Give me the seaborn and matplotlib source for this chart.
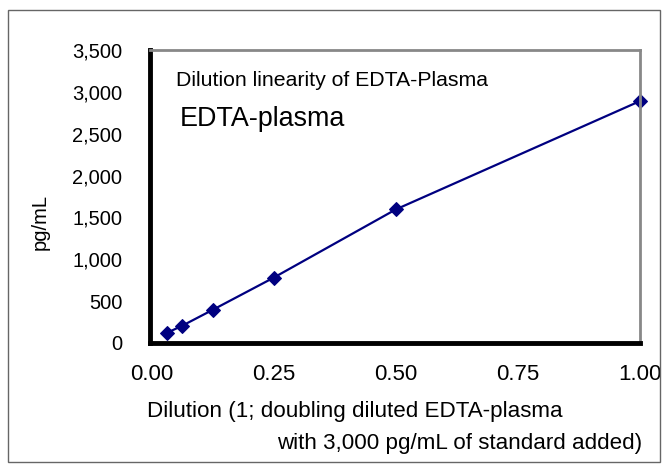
import matplotlib
matplotlib.use("Agg")
import matplotlib.pyplot as plt
import seaborn as sns
import pandas as pd
from matplotlib.ticker import FuncFormatter, FixedLocator
from matplotlib.patches import Rectangle

sns.set_style("white")
plt.rcParams['font.family'] = ['Liberation Sans', 'DejaVu Sans']
plt.rcParams['text.color'] = 'black'
plt.rcParams['xtick.color'] = 'black'
plt.rcParams['ytick.color'] = 'black'
plt.rcParams['axes.labelcolor'] = 'black'

dilution = [0.03125, 0.0625, 0.125, 0.25, 0.5, 1.0]
pg_ml = [120, 205, 395, 780, 1595, 2890]
x_ticks = [0.0, 0.25, 0.5, 0.75, 1.0]
y_ticks = [0, 500, 1000, 1500, 2000, 2500, 3000, 3500]

df = pd.DataFrame({"Dilution": dilution, "pg/mL": pg_ml})

W, H = 670, 470
fig = plt.figure(figsize=(6.7, 4.7), dpi=100)
ax = fig.add_axes([150/W, 1 - 343/H, 490/W, 293/H])

sns.lineplot(data=df, x="Dilution", y="pg/mL", ax=ax, color="#000080",
             marker="D", markersize=7, markeredgecolor="#000080",
             linewidth=1.6, clip_on=False)

ax.set_xlim(-0.003, 1.0)
ax.set_ylim(0, 3500)
ax.xaxis.set_major_locator(FixedLocator(x_ticks))
ax.yaxis.set_major_locator(FixedLocator(y_ticks))
ax.xaxis.set_major_formatter(FuncFormatter(lambda v, p: f"{v:.2f}"))
ax.yaxis.set_major_formatter(FuncFormatter(lambda v, p: f"{int(v):,}"))

for s in ['top', 'right']:
    ax.spines[s].set_color('#888888')
    ax.spines[s].set_linewidth(2)
for s in ['left', 'bottom']:
    ax.spines[s].set_color('black')
    ax.spines[s].set_linewidth(3.5)

ax.set_xlabel("")

renderer = fig.canvas.get_renderer()


def fit_size(text, target_w, base=12, rotation=0):
    t = fig.text(0, 0, text, fontsize=base, rotation=rotation)
    bb = t.get_window_extent(renderer)
    t.remove()
    w = bb.height if rotation else bb.width
    return base * target_w / w


ysz = fit_size("3,500", 50)
xsz = fit_size("1.00", 43)
ax.tick_params(axis='y', labelsize=ysz, length=0, pad=20)
ax.tick_params(axis='x', labelsize=xsz, length=0, pad=15)

ax.set_ylabel("pg/mL", fontsize=fit_size("pg/mL", 56, rotation=90), labelpad=0)
ax.yaxis.set_label_coords(50/W, 1 - 222/H, transform=fig.transFigure)


def place(text, left, right, yc):
    sz = fit_size(text, right - left)
    fig.text(left/W, 1 - yc/H, text, fontsize=sz, va='center', ha='left')


place("Dilution linearity of EDTA-Plasma", 176, 490, 80)
place("EDTA-plasma", 180, 345, 119)

line1 = "Dilution (1; doubling diluted EDTA-plasma"
line2 = "with 3,000 pg/mL of standard added)"
s1 = fit_size(line1, 386)
s2 = fit_size(line2, 390)
s = (s1 + s2) / 2
fig.text(355/W, 1 - 411/H, line1, fontsize=s, va='center', ha='center')
fig.text(460/W, 1 - 443/H, line2, fontsize=s, va='center', ha='center')

fig.patches.append(Rectangle((8/W, 1 - 462/H), 652/W, 452/H,
                             transform=fig.transFigure, fill=False,
                             edgecolor='#666666', linewidth=1))

fig.savefig("out.png", dpi=100)
